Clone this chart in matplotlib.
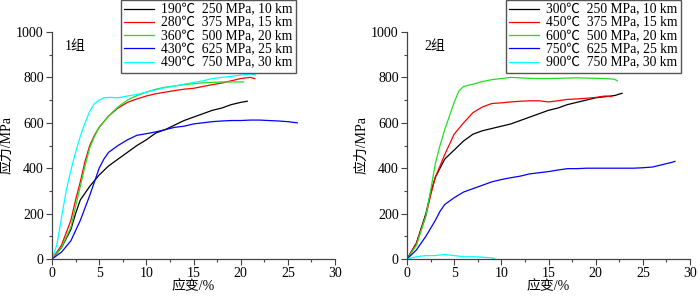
import matplotlib
matplotlib.use("Agg")
import matplotlib.pyplot as plt
from matplotlib.ticker import MultipleLocator

plt.rcParams["font.family"] = ["Liberation Serif", "Noto Sans CJK SC"]
plt.rcParams["font.size"] = 10

colors = ["black", "red", "#22dd22", "blue", "cyan"]

# group 1
labels1 = ["190℃  250 MPa, 10 km", "280℃  375 MPa, 15 km", "360℃  500 MPa, 20 km",
           "430℃  625 MPa, 25 km", "490℃  750 MPa, 30 km"]
x1_black = [0, 1, 2, 2.5, 3, 4, 5, 6, 7, 8, 9, 10, 11, 12, 13, 14, 15, 16, 17, 18, 19, 20, 20.7]
y1_black = [0, 50, 130, 200, 260, 320, 370, 410, 440, 470, 500, 525, 555, 570, 590, 610, 625,
            640, 655, 665, 680, 690, 695]
x1_red = [0, 1, 2, 2.5, 3, 3.5, 4, 4.5, 5, 6, 7, 8, 9, 10, 11, 12, 13, 14, 15, 16, 17, 18,
          19, 20, 21, 21.5]
y1_red = [0, 60, 170, 260, 340, 430, 500, 545, 580, 630, 665, 690, 705, 718, 728, 735, 742,
          748, 752, 760, 768, 775, 785, 795, 800, 795]
x1_green = [0, 1, 2, 2.5, 3, 3.5, 4, 4.5, 5, 6, 7, 8, 9, 10, 11, 12, 13, 14, 15, 16, 17, 18,
            19, 20, 20.3]
y1_green = [0, 50, 140, 230, 320, 410, 490, 540, 580, 630, 670, 700, 720, 735, 748, 757, 762,
            768, 772, 776, 778, 780, 780, 780, 780]
x1_blue = [0, 1, 2, 3, 4, 5, 5.5, 6, 7, 8, 9, 10, 11, 12, 13, 14, 15, 16, 17, 18, 19, 20, 21,
           22, 23, 24, 25, 26]
y1_blue = [0, 30, 80, 170, 280, 400, 440, 470, 500, 525, 545, 552, 560, 570, 580, 585, 595,
           600, 605, 608, 610, 610, 612, 612, 610, 608, 605, 600]
x1_cyan = [0, 0.5, 1, 1.5, 2, 2.5, 3, 3.5, 4, 4.5, 5, 5.5, 6, 7, 8, 9, 10, 11, 12, 13, 14, 15,
           16, 17, 18, 19, 20, 21, 21.6]
y1_cyan = [0, 60, 180, 300, 390, 470, 540, 600, 650, 685, 700, 710, 712, 710, 718, 725, 735,
           745, 755, 762, 770, 778, 785, 795, 800, 805, 810, 815, 810]

# group 2
labels2 = ["300℃  250 MPa, 10 km", "450℃  375 MPa, 15 km", "600℃  500 MPa, 20 km",
           "750℃  625 MPa, 25 km", "900℃  750 MPa, 30 km"]
x2_black = [0, 1, 2, 2.5, 3, 3.5, 4, 5, 6, 7, 8, 9, 10, 11, 12, 13, 14, 15, 16, 17, 18, 19,
            20, 21, 22, 22.8]
y2_black = [0, 70, 200, 290, 360, 400, 440, 480, 520, 550, 565, 575, 585, 595, 610, 625, 640,
            655, 665, 680, 690, 700, 710, 715, 720, 730]
x2_red = [0, 1, 2, 2.5, 3, 4, 5, 6, 7, 8, 9, 10, 11, 12, 13, 14, 15, 16, 17, 18, 19, 20, 21,
          21.7]
y2_red = [0, 70, 190, 280, 360, 460, 550, 600, 645, 670, 685, 688, 692, 695, 697, 697, 692,
          697, 703, 705, 708, 712, 718, 715]
x2_green = [0, 1, 2, 2.5, 3, 3.5, 4, 4.5, 5, 5.5, 6, 7, 8, 9, 10, 11, 12, 13, 14, 15, 16, 17,
            18, 19, 20, 21, 22, 22.3]
y2_green = [0, 60, 190, 300, 420, 500, 570, 630, 690, 740, 760, 770, 782, 790, 795, 800, 798,
            796, 795, 795, 796, 797, 798, 797, 796, 795, 792, 785]
x2_blue = [0, 1, 2, 3, 3.5, 4, 5, 6, 7, 8, 9, 10, 11, 12, 13, 14, 15, 16, 17, 18, 19, 20, 21,
           22, 23, 24, 25, 26, 27, 28, 28.4]
y2_blue = [0, 40, 100, 170, 210, 240, 270, 295, 310, 325, 340, 350, 358, 365, 375, 380, 385,
           392, 398, 398, 400, 400, 400, 400, 400, 400, 402, 405, 415, 425, 430]
x2_cyan = [0, 0.5, 1, 2, 3, 4, 5, 6, 7, 8, 9, 9.3]
y2_cyan = [0, 5, 10, 15, 15, 20, 15, 10, 10, 8, 5, 0]

group1 = [(x1_black, y1_black), (x1_red, y1_red), (x1_green, y1_green),
          (x1_blue, y1_blue), (x1_cyan, y1_cyan)]
group2 = [(x2_black, y2_black), (x2_red, y2_red), (x2_green, y2_green),
          (x2_blue, y2_blue), (x2_cyan, y2_cyan)]

fig = plt.figure(figsize=(7, 2.98), dpi=100)
ax1 = fig.add_axes([52 / 700, 1 - 259 / 298, 283 / 700, 227 / 298])
ax2 = fig.add_axes([407 / 700, 1 - 259 / 298, 283 / 700, 227 / 298])


def draw(ax, data, labels, tag, leg_left):
    for (x, y), c, lab in zip(data, colors, labels):
        ax.plot(x, y, color=c, lw=0.9, label=lab)
    ax.set_xlim(0, 30)
    ax.set_ylim(0, 1000)
    ax.xaxis.set_major_locator(MultipleLocator(5))
    ax.xaxis.set_minor_locator(MultipleLocator(2.5))
    ax.yaxis.set_major_locator(MultipleLocator(200))
    ax.yaxis.set_minor_locator(MultipleLocator(100))
    ax.spines["top"].set_visible(False)
    ax.spines["right"].set_visible(False)
    for s in ["left", "bottom"]:
        ax.spines[s].set_color("#444444")
        ax.spines[s].set_linewidth(0.9)
    ax.tick_params(which="major", length=4, width=0.8, color="#444444", pad=2)
    ax.tick_params(which="minor", length=2, width=0.8, color="#444444")
    ax.set_xlabel("应变/%", labelpad=0)
    ax.set_ylabel("应力/MPa", labelpad=2)
    ax.text(tag[0], 935, tag[1], ha="left", va="center")
    ax.patch.set_alpha(0)
    fig.legend(loc="upper left", bbox_to_anchor=(leg_left, 1.0), bbox_transform=fig.transFigure,
               handles=ax.get_lines(), frameon=True, fancybox=False, edgecolor="#555555",
               framealpha=1, borderaxespad=0, labelspacing=0.02, handlelength=2.2,
               handletextpad=0.5, borderpad=0.25, fontsize=9.8)


draw(ax1, group1, labels1, (1.4, "1组"), 121 / 700)
draw(ax2, group2, labels2, (1.8, "2组"), 506 / 700)

fig.savefig("out.png", dpi=100)
